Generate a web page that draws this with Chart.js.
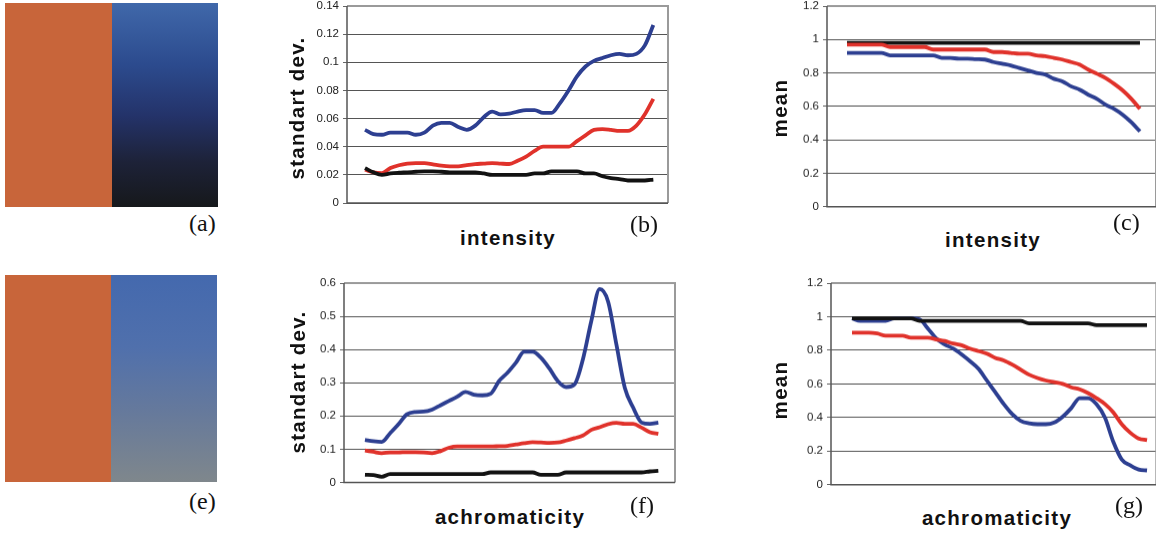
<!DOCTYPE html>
<html>
<head>
<meta charset="utf-8">
<script src="https://cdn.jsdelivr.net/npm/chart.js@4"></script>
<style>
    body { margin: 0; width: 1156px; height: 533px; background: #fff; position: relative; overflow: hidden; }
    .swatch { position: absolute; display: flex; }
    .swatch .orange { background: #c8653a; flex: 0 0 50%; }
    .swatch .grad { flex: 1; }
    .panel-label { position: absolute; font-family: "Liberation Serif", "Times New Roman", serif; font-size: 24px; color: #111; line-height: 1; }
    .axis-title { position: absolute; font-family: "Liberation Sans", Arial, sans-serif; font-weight: bold; font-size: 20.5px; color: #111; letter-spacing: 1.3px; white-space: nowrap; line-height: 1; transform: translate(-50%, -50%); }
    .axis-title.rot { transform: translate(-50%, -50%) rotate(-90deg); }
    .chart-box { position: absolute; }
</style>
</head>
<body>

<!-- (a) and (e) colour swatches -->
<div class="swatch" style="left:5px; top:3px; width:213px; height:204px;">
    <div class="orange"></div>
    <div class="grad" style="background: linear-gradient(to bottom, #4068aa 0%, #2c4b8e 30%, #24336a 55%, #1d2238 78%, #16181b 100%);"></div>
</div>
<div class="panel-label" style="left:189px; top:211px;">(a)</div>

<div class="swatch" style="left:5px; top:275px; width:212px; height:207px;">
    <div class="orange"></div>
    <div class="grad" style="background: linear-gradient(to bottom, #4469ae 0%, #5070ac 35%, #65799c 65%, #7f878c 100%);"></div>
</div>
<div class="panel-label" style="left:189px; top:489px;">(e)</div>

<!-- chart containers -->
<div class="chart-box" id="boxB"><canvas id="chartB"></canvas></div>
<div class="chart-box" id="boxC"><canvas id="chartC"></canvas></div>
<div class="chart-box" id="boxF"><canvas id="chartF"></canvas></div>
<div class="chart-box" id="boxG"><canvas id="chartG"></canvas></div>

<!-- axis titles and panel labels -->
<div class="axis-title rot" style="left:297px; top:108px;">standart dev.</div>
<div class="axis-title" style="left:508px; top:238px;">intensity</div>
<div class="panel-label" style="left:630px; top:212px;">(b)</div>

<div class="axis-title rot" style="left:780px; top:108px;">mean</div>
<div class="axis-title" style="left:993px; top:240px;">intensity</div>
<div class="panel-label" style="left:1113px; top:210px;">(c)</div>

<div class="axis-title rot" style="left:298px; top:382px;">standart dev.</div>
<div class="axis-title" style="left:510px; top:517px;">achromaticity</div>
<div class="panel-label" style="left:630px; top:493px;">(f)</div>

<div class="axis-title rot" style="left:780px; top:390px;">mean</div>
<div class="axis-title" style="left:997px; top:518px;">achromaticity</div>
<div class="panel-label" style="left:1115px; top:493px;">(g)</div>

<script>
// Sample positions along the x axis (no numeric labels in the figure)
const intensityPos = [0, 1, 2, 3, 4, 5, 6, 7, 8, 9, 10, 11, 12, 13, 14, 15, 16, 17, 18, 19,
    20, 21, 22, 23, 24, 25, 26, 27, 28, 29, 30, 31, 32, 33, 34];
const achromPos = [0, 1, 2, 3, 4, 5, 6, 7, 8, 9, 10, 11, 12, 13, 14, 15, 16, 17, 18, 19,
    20, 21, 22, 23, 24, 25, 26, 27, 28, 29, 30, 31, 32, 33, 34, 35];

// (b) standard deviation vs intensity
const intensityStdBlue = [0.052, 0.049, 0.0485, 0.050, 0.050, 0.050, 0.0485, 0.050, 0.055, 0.057,
    0.057, 0.054, 0.052, 0.055, 0.061, 0.065, 0.063, 0.0635, 0.065, 0.066,
    0.066, 0.064, 0.064, 0.071, 0.080, 0.090, 0.097, 0.101, 0.103, 0.105,
    0.106, 0.105, 0.106, 0.112, 0.1265];
const intensityStdRed = [0.0236, 0.0218, 0.0213, 0.0248, 0.0268, 0.028, 0.0284, 0.0284, 0.0275, 0.0265,
    0.026, 0.026, 0.027, 0.0277, 0.028, 0.0284, 0.028, 0.0277, 0.030, 0.033,
    0.037, 0.040, 0.040, 0.040, 0.040, 0.044, 0.048, 0.052, 0.0525, 0.052,
    0.0513, 0.0513, 0.055, 0.063, 0.074];
const intensityStdBlack = [0.0248, 0.0218, 0.020, 0.021, 0.0215, 0.0218, 0.0222, 0.0225, 0.0225, 0.0222,
    0.0218, 0.0218, 0.0218, 0.0218, 0.021, 0.020, 0.020, 0.020, 0.020, 0.020,
    0.021, 0.021, 0.0225, 0.0225, 0.0225, 0.0225, 0.021, 0.021, 0.019, 0.0177,
    0.017, 0.016, 0.016, 0.016, 0.0166];

// (c) mean vs intensity
const intensityMeanBlack = [0.98, 0.98, 0.98, 0.98, 0.98, 0.98, 0.98, 0.98, 0.98, 0.98,
    0.98, 0.98, 0.98, 0.98, 0.98, 0.98, 0.98, 0.98, 0.98, 0.98,
    0.98, 0.98, 0.98, 0.98, 0.98, 0.98, 0.98, 0.98, 0.98, 0.98,
    0.98, 0.98, 0.98, 0.98, 0.98];
const intensityMeanRed = [0.97, 0.97, 0.97, 0.97, 0.97, 0.955, 0.955, 0.955, 0.955, 0.955,
    0.94, 0.94, 0.94, 0.94, 0.94, 0.94, 0.94, 0.925, 0.925, 0.92,
    0.915, 0.915, 0.905, 0.90, 0.89, 0.88, 0.865, 0.85, 0.82, 0.795,
    0.77, 0.735, 0.695, 0.645, 0.585];
const intensityMeanBlue = [0.92, 0.92, 0.92, 0.92, 0.92, 0.905, 0.905, 0.905, 0.905, 0.905,
    0.905, 0.89, 0.89, 0.885, 0.885, 0.882, 0.88, 0.865, 0.855, 0.845,
    0.83, 0.815, 0.80, 0.79, 0.765, 0.75, 0.72, 0.70, 0.67, 0.645,
    0.61, 0.585, 0.55, 0.505, 0.45];

// (f) standard deviation vs achromaticity
const achromStdBlue = [0.128, 0.124, 0.122, 0.148, 0.175, 0.205, 0.212, 0.213, 0.219, 0.232,
    0.245, 0.258, 0.272, 0.264, 0.262, 0.267, 0.305, 0.330, 0.360, 0.393,
    0.393, 0.375, 0.343, 0.305, 0.287, 0.295, 0.370, 0.485, 0.582, 0.545,
    0.415, 0.285, 0.225, 0.180, 0.176, 0.180];
const achromStdRed = [0.096, 0.092, 0.088, 0.090, 0.090, 0.091, 0.091, 0.090, 0.088, 0.094,
    0.104, 0.108, 0.108, 0.108, 0.108, 0.108, 0.109, 0.110, 0.114, 0.118,
    0.121, 0.120, 0.119, 0.120, 0.126, 0.133, 0.141, 0.158, 0.166, 0.175,
    0.179, 0.176, 0.176, 0.165, 0.151, 0.146];
const achromStdBlack = [0.023, 0.022, 0.017, 0.025, 0.025, 0.025, 0.025, 0.025, 0.025, 0.025,
    0.025, 0.025, 0.025, 0.025, 0.025, 0.030, 0.030, 0.030, 0.030, 0.030,
    0.030, 0.023, 0.023, 0.023, 0.030, 0.030, 0.030, 0.030, 0.030, 0.030,
    0.030, 0.030, 0.030, 0.030, 0.033, 0.035];

// (g) mean vs achromaticity
const achromMeanBlue = [0.99, 0.975, 0.975, 0.975, 0.975, 0.99, 0.99, 0.99, 0.985, 0.93,
    0.87, 0.835, 0.81, 0.775, 0.735, 0.69, 0.62, 0.55, 0.48, 0.42,
    0.38, 0.365, 0.36, 0.36, 0.37, 0.405, 0.455, 0.515, 0.515, 0.48,
    0.40, 0.255, 0.15, 0.115, 0.09, 0.085];
const achromMeanRed = [0.905, 0.905, 0.905, 0.90, 0.887, 0.887, 0.887, 0.875, 0.875, 0.875,
    0.865, 0.855, 0.84, 0.83, 0.81, 0.795, 0.78, 0.755, 0.74, 0.715,
    0.685, 0.655, 0.635, 0.62, 0.61, 0.60, 0.58, 0.568, 0.545, 0.515,
    0.48, 0.43, 0.36, 0.31, 0.275, 0.265];
const achromMeanBlack = [0.99, 0.99, 0.99, 0.99, 0.99, 0.99, 0.99, 0.99, 0.975, 0.975,
    0.975, 0.975, 0.975, 0.975, 0.975, 0.975, 0.975, 0.975, 0.975, 0.975,
    0.975, 0.96, 0.96, 0.96, 0.96, 0.96, 0.96, 0.96, 0.96, 0.95,
    0.95, 0.95, 0.95, 0.95, 0.95, 0.95];

// Tick labels
const stdTicksIntensity = [0, 0.02, 0.04, 0.06, 0.08, 0.1, 0.12, 0.14];
const stdTicksAchrom = [0, 0.1, 0.2, 0.3, 0.4, 0.5, 0.6];
const meanTicks = [0, 0.2, 0.4, 0.6, 0.8, 1, 1.2];

// Colours
const BLUE = '#2d3f91';
const RED = '#e0322b';
const BLACK = '#121212';

// Draws the plot-area frame: grey top/right, dark left/bottom
const framePlugin = {
    id: 'frame',
    beforeDatasetsDraw(chart) {
        const { ctx, chartArea: a } = chart;
        ctx.save();
        ctx.lineWidth = 2;
        ctx.strokeStyle = '#9a9a9a';
        ctx.beginPath();
        ctx.moveTo(a.left, a.top);
        ctx.lineTo(a.right, a.top);
        ctx.lineTo(a.right, a.bottom);
        ctx.stroke();
        ctx.lineWidth = 1.5;
        ctx.strokeStyle = '#555';
        ctx.beginPath();
        ctx.moveTo(a.left, a.top);
        ctx.lineTo(a.left, a.bottom);
        ctx.lineTo(a.right, a.bottom);
        ctx.stroke();
        ctx.restore();
    }
};

function lineSet(xs, ys, color) {
    return {
        data: xs.map((x, i) => ({ x: x, y: ys[i] })),
        borderColor: color,
        borderWidth: 3.8,
        pointRadius: 0,
        cubicInterpolationMode: 'monotone',
        fill: false
    };
}

// plot = pixel box of the plot area on the page
function makeChart(canvasId, boxId, plot, xRange, ticks, datasets) {
    const axisW = 60, padT = 12, padB = 12, padR = 2;
    const box = document.getElementById(boxId);
    box.style.left = (plot.l - axisW) + 'px';
    box.style.top = (plot.t - padT) + 'px';
    box.style.width = (plot.r - plot.l + axisW + padR) + 'px';
    box.style.height = (plot.b - plot.t + padT + padB) + 'px';

    return new Chart(document.getElementById(canvasId), {
        type: 'line',
        data: { datasets: datasets },
        options: {
            responsive: true,
            maintainAspectRatio: false,
            animation: false,
            layout: { padding: { top: padT, bottom: padB, left: 0, right: padR } },
            plugins: { legend: { display: false }, tooltip: { enabled: false } },
            scales: {
                x: { type: 'linear', display: false, min: xRange[0], max: xRange[1] },
                y: {
                    min: ticks[0],
                    max: ticks[ticks.length - 1],
                    afterBuildTicks: (scale) => { scale.ticks = ticks.map(v => ({ value: v })); },
                    afterFit: (scale) => { scale.width = axisW; },
                    border: { display: false },
                    grid: { color: '#555', lineWidth: 1, tickLength: 4, tickColor: '#666' },
                    ticks: {
                        padding: 4,
                        color: '#222',
                        font: { family: '"Liberation Sans", Arial, sans-serif', size: 11.5 },
                        callback: (v) => String(Math.round(v * 100) / 100)
                    }
                }
            }
        },
        plugins: [framePlugin]
    });
}

document.addEventListener('DOMContentLoaded', () => {
    makeChart('chartB', 'boxB', { l: 347, r: 668, t: 6, b: 203 }, [-2.12, 35.73], stdTicksIntensity, [
        lineSet(intensityPos, intensityStdBlack, BLACK),
        lineSet(intensityPos, intensityStdRed, RED),
        lineSet(intensityPos, intensityStdBlue, BLUE)
    ]);
    makeChart('chartC', 'boxC', { l: 827, r: 1156, t: 6, b: 205.7 }, [-2.32, 35.86], meanTicks, [
        lineSet(intensityPos, intensityMeanBlue, BLUE),
        lineSet(intensityPos, intensityMeanRed, RED),
        lineSet(intensityPos, intensityMeanBlack, BLACK)
    ]);
    makeChart('chartF', 'boxF', { l: 344, r: 675, t: 283.3, b: 481.7 }, [-2.5, 36.99], stdTicksAchrom, [
        lineSet(achromPos, achromStdBlack, BLACK),
        lineSet(achromPos, achromStdRed, RED),
        lineSet(achromPos, achromStdBlue, BLUE)
    ]);
    makeChart('chartG', 'boxG', { l: 830.7, r: 1156, t: 283.3, b: 484 }, [-2.49, 36.1], meanTicks, [
        lineSet(achromPos, achromMeanBlack, BLACK),
        lineSet(achromPos, achromMeanRed, RED),
        lineSet(achromPos, achromMeanBlue, BLUE)
    ]);
});
</script>
</body>
</html>
